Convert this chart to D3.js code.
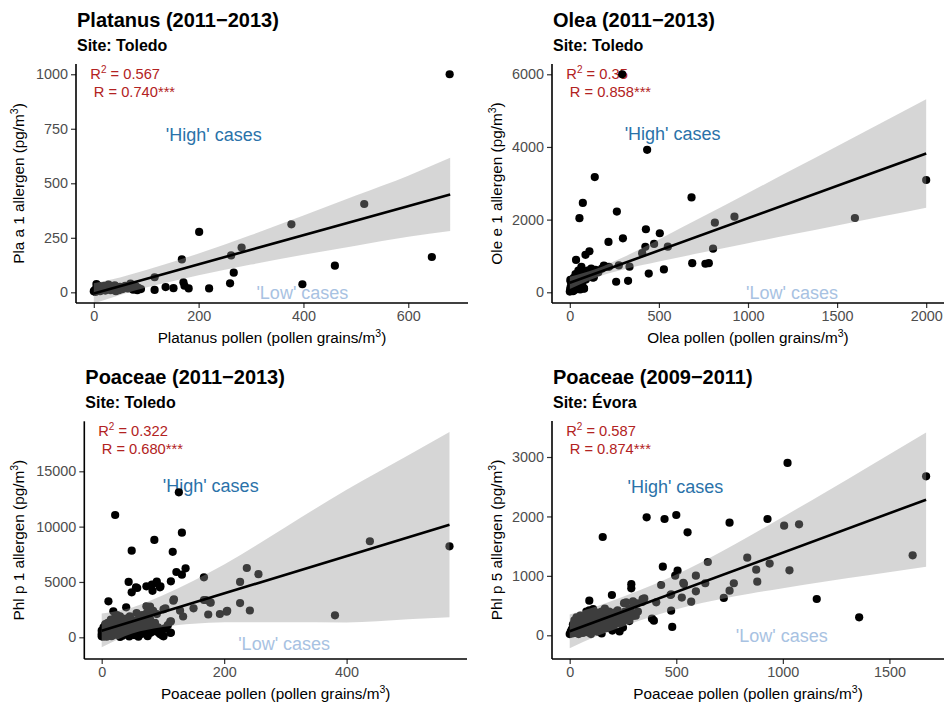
<!DOCTYPE html>
<html><head><meta charset="utf-8">
<script src="https://cdn.jsdelivr.net/npm/d3@7/dist/d3.min.js"></script>
<style>
body{margin:0;background:#fff;}
svg text{font-family:"Liberation Sans",Arial,Helvetica,sans-serif;}
</style></head>
<body><svg id="chart" width="944" height="706"></svg>
<script>
// ---------------- DATA ----------------
// Panel 1: Platanus (Toledo) [pollen, allergen]
const platanusPoints = [
 [679,1000],[516,405],[377,312],[201,277],[282,205],[262,169],[168,151],[267,90],[645,162],[460,122],
 [398,37],[260,41],[220,18],[171,46],[173,30],[181,18],[152,19],[137,24],[116,11],[116,69],
 [0,5],[2,10],[3,2],[5,20],[5,38],[8,15],[10,30],[12,5],[15,25],[18,12],[20,30],[22,8],[25,18],
 [28,35],[30,22],[32,10],[35,28],[38,15],[40,32],[42,5],[45,20],[48,10],[50,25],[55,15],[60,30],
 [65,18],[70,40],[72,22],[75,12],[80,28],[83,10],[85,20],[90,15]
];
const platanusFit = {x:[0,680], y:[-5,449]};
const platanusBandX = [0,50,100,150,200,300,400,500,600,680];
const platanusBandLo = [-51,-12,22,51,78,127,172,214,255,281];
const platanusBandHi = [41,68,102,139,178,263,352,444,535,617];

// Panel 2: Olea (Toledo)
const oleaPoints = [
 [294,6000],[434,3920],[140,3170],[73,2460],[54,2040],[264,2220],[683,2610],[2000,3090],[1600,2045],
 [924,2080],[814,1915],[804,1200],[427,1735],[505,1625],[298,1485],[217,1385],[473,1330],[550,1255],
 [424,1250],[406,1075],[110,1130],[88,1030],[35,890],[687,800],[761,785],[780,800],[528,630],[443,515],
 [260,290],[327,315],[335,705],[275,740],[200,705],[135,415],[191,732],[107,567],[144,614],
 [0,20],[2,80],[5,150],[5,300],[8,50],[10,200],[12,350],[15,100],[18,30],[20,250],[22,400],[25,150],
 [28,60],[30,300],[32,500],[35,200],[38,100],[40,350],[42,450],[45,250],[48,600],[50,150],[55,400],
 [58,80],[60,500],[62,300],[65,700],[70,200],[75,450],[80,100],[85,550],[90,350],[100,600],[110,450],
 [120,650],[130,400],[145,600],[160,550],[180,650],[220,700],[3,339],[13,63],[79,110]
];
const oleaFit = {x:[0,2000], y:[260,3820]};
const oleaBandX = [0,150,300,500,750,1000,1250,1500,1750,2000];
const oleaBandLo = [90,407,624,845,1099,1347,1594,1840,2085,2330];
const oleaBandHi = [430,647,964,1455,2091,2733,3376,4020,4665,5310];

// Panel 3: Poaceae (Toledo)
const poaceaeTPoints = [
 [568,8220],[438,8680],[381,1990],[237,6260],[256,5700],[226,5000],[242,2420],[226,3090],[205,2400],
 [193,2105],[174,2060],[177,3160],[167,3370],[167,5420],[150,2620],[137,6230],[131,5660],[122,5900],
 [131,9450],[126,13100],[116,7720],[113,5060],[86,8800],[89,4906],[96,4600],[82,4753],[83,4200],
 [73,4608],[58,4455],[49,4060],[49,7825],[44,5000],[22,11050],[11,3250],[117,3307],[133,1880],
 [113,1446],[101,2530],[113,400],[101,90],[73,2801],[40,2711],[19,2349],[57,2196],[79,1563],
 [118,3430],[170,3370],[178,3127],[204,2313],[128,2404],[112,1410],[104,2620],[79,2765],[76,1861],
 [112,416],[98,208],[90,5025],[95,4518],[56,4518],
 [0,100],[0,300],[0,600],[1,200],[2,50],[2,450],[3,900],[4,150],[5,350],[5,700],[6,1200],[7,250],
 [8,500],[8,50],[9,800],[10,1300],[10,400],[12,150],[12,650],[13,1000],[14,300],[15,1600],[15,550],
 [16,100],[17,800],[18,400],[20,1100],[20,200],[21,650],[22,1800],[23,300],[24,900],
 [25,500],[25,2000],[27,1400],[28,200],[28,700],[30,1000],[30,1900],[32,450],[33,1500],[34,150],
 [35,800],[37,1100],[38,350],[40,1700],[40,600],[42,1300],[43,250],[45,900],
 [46,1900],[48,500],[50,1200],[52,700],[53,200],[55,1500],[56,1000],[58,400],
 [60,800],[62,1800],[63,1200],[65,300],[66,2000],[68,900],[70,1400],[72,600],[74,2200],[75,1100],
 [77,800],[79,1600],[80,400],[82,1000],[84,2400],[85,700],[87,1300],[90,500],[92,900],[95,300],
 [97,600],[100,150],[103,800],[108,1100],[75,100],[60,50],[45,80],[30,30],[90,2100]
];
const poaceaeTFit = {x:[0,568], y:[596,10175]};
const poaceaeTBandX = [0,50,100,150,200,300,400,500,568];
const poaceaeTBandLo = [-904,339,932,1225,1368,1354,1340,1626,1805];
const poaceaeTBandHi = [2150,2700,3800,5100,6568,9954,13340,16426,18545];

// Panel 4: Poaceae (Évora)
const poaceaeEPoints = [
 [1672,2675],[1022,2900],[1609,1346],[1159,611],[1358,303],[1031,1094],[938,1206],[928,1957],
 [1006,1845],[1076,1868],[833,1306],[875,1104],[880,902],[750,1895],[648,1233],[770,876],[750,750],
 [723,628],[636,876],[592,1003],[592,740],[570,565],[553,1733],[500,2024],[445,1957],[361,1985],
 [437,1154],[506,1087],[495,1003],[536,862],[429,846],[476,690],[406,555],[476,414],[481,140],
 [386,279],[395,246],[342,611],[297,572],[297,325],[289,860],[289,790],[198,678],[155,1654],
 [92,582],[234,64],[316,538],[265,555],[265,262],[533,882],[526,635],[473,678],
 [0,20],[5,60],[10,100],[12,30],[15,180],[20,80],[22,250],[25,130],[28,40],[30,200],[32,300],
 [35,90],[38,150],[40,260],[42,20],[45,110],[48,200],[50,330],[52,60],[55,170],[58,250],[60,120],
 [62,40],[65,220],[68,300],[70,150],[72,80],[75,190],[78,400],[80,260],[82,110],[85,50],[88,330],
 [90,200],[92,420],[95,140],[98,280],[100,70],[105,360],[108,190],[110,440],[112,250],[115,100],
 [118,320],[120,170],[125,230],[128,380],[130,60],[135,280],[138,150],[140,340],[145,210],[148,90],
 [150,400],[155,260],[158,170],[160,300],[165,450],[170,220],[172,120],[175,350],[180,280],
 [185,400],[190,180],[195,330],[200,250],[205,130],[210,380],[215,300],[220,200],[225,420],
 [230,270],[240,320],[250,230],[255,540],[260,400],[270,300],[280,240],[290,380],[300,520],
 [310,330],[320,400],[340,560],[350,620],[250,130],[30,70],[200,80],[150,30],[100,20],[60,290],[280,450]
];
const poaceaeEFit = {x:[0,1672], y:[67,2282]};
const poaceaeEBandX = [0,125,250,400,550,700,850,1000,1200,1400,1672];
const poaceaeEBandLo = [-217,-17,148,332,485,604,703,792,906,1011,1152];
const poaceaeEBandHi = [351,483,648,862,1105,1384,1683,1992,2406,2831,3412];

// Titles / labels
const titles = ["Platanus (2011\u22122013)","Olea (2011\u22122013)","Poaceae (2011\u22122013)","Poaceae (2009\u22122011)"];
const subtitles = ["Site: Toledo","Site: Toledo","Site: Toledo","Site: \u00C9vora"];
const xLabels = ["Platanus pollen (pollen grains/m","Olea pollen (pollen grains/m","Poaceae pollen (pollen grains/m","Poaceae pollen (pollen grains/m"];
const yLabels = ["Pla a 1 allergen (pg/m","Ole e 1 allergen (pg/m","Phl p 1 allergen (pg/m","Phl p 5 allergen (pg/m"];
const r2Values = ["0.567","0.35","0.322","0.587"];
const rValues = ["0.740***","0.858***","0.680***","0.874***"];
const xTicks = [[0,200,400,600],[0,500,1000,1500,2000],[0,200,400],[0,500,1000,1500]];
const yTicks = [[0,250,500,750,1000],[0,2000,4000,6000],[0,5000,10000,15000],[0,1000,2000,3000]];
const highPos = [[229,721],[577,4376],[178,13700],[496,2495]];
const lowPos = [[398,0],[1247,0],[298,-605],[995,0]];

// ---------------- LAYOUT ----------------
const panels = [
 {pts:platanusPoints, fit:platanusFit, bx:platanusBandX, lo:platanusBandLo, hi:platanusBandHi,
  rect:{l:76,r:468,t:64,b:303}, xd:[-34,714], yd:[-49,1047], ylabX:19},
 {pts:oleaPoints, fit:oleaFit, bx:oleaBandX, lo:oleaBandLo, hi:oleaBandHi,
  rect:{l:552,r:944,t:64,b:303}, xd:[-100,2100], yd:[-295,6283], ylabX:497},
 {pts:poaceaeTPoints, fit:poaceaeTFit, bx:poaceaeTBandX, lo:poaceaeTBandLo, hi:poaceaeTBandHi,
  rect:{l:84.3,r:467,t:421.3,b:659}, xd:[-28.4,596.6], yd:[-1961,19518], ylabX:19},
 {pts:poaceaeEPoints, fit:poaceaeEFit, bx:poaceaeEBandX, lo:poaceaeEBandLo, hi:poaceaeEBandHi,
  rect:{l:552,r:944,t:421,b:659}, xd:[-83,1756], yd:[-399,3606], ylabX:497}
];

const svg = d3.select("#chart");
const FONT_TICK = 14.4, FONT_AX = 15.3;

panels.forEach((p,i)=>{
  const R = p.rect;
  const x = d3.scaleLinear().domain(p.xd).range([R.l,R.r]);
  const y = d3.scaleLinear().domain(p.yd).range([R.b,R.t]);
  const g = svg.append("g");
  const clipId = "clip"+i;
  svg.append("clipPath").attr("id",clipId).append("rect")
    .attr("x",R.l).attr("y",R.t).attr("width",R.r-R.l).attr("height",R.b-R.t);

  // title & subtitle
  g.append("text").attr("x",R.l+1).attr("y",R.t-37.5).attr("font-size",20).attr("font-weight","bold")
    .attr("fill","#000").text(titles[i]);
  g.append("text").attr("x",R.l+1).attr("y",R.t-13.5).attr("font-size",16).attr("font-weight","bold")
    .attr("fill","#000").text(subtitles[i]);

  // annotations (under the points)
  const ann = g.append("g");
  const r2 = ann.append("text").attr("x",x(0)-3.5).attr("y",R.t+15).attr("font-size",14.7).attr("fill","#b22222");
  r2.append("tspan").text("R");
  r2.append("tspan").attr("dy",-6).attr("font-size",10).text("2");
  r2.append("tspan").attr("dy",6).text(" = "+r2Values[i]);
  ann.append("text").attr("x",x(0)).attr("y",R.t+32.5).attr("font-size",14.7).attr("fill","#b22222")
    .text("R = "+rValues[i]);
  ann.append("text").attr("x",x(highPos[i][0])).attr("y",y(highPos[i][1])).attr("dy","0.35em")
    .attr("text-anchor","middle").attr("font-size",18).attr("fill","#2a72a9").text("'High' cases");
  ann.append("text").attr("x",x(lowPos[i][0])).attr("y",y(lowPos[i][1])).attr("dy","0.35em")
    .attr("text-anchor","middle").attr("font-size",18).attr("fill","#a8c2e2").text("'Low' cases");

  const plot = g.append("g").attr("clip-path",`url(#${clipId})`);
  // points
  plot.selectAll("circle").data(p.pts).join("circle")
    .attr("cx",d=>x(d[0])).attr("cy",d=>y(d[1])).attr("r",4.1).attr("fill","#000");
  // confidence band
  const band = p.bx.map((bx,k)=>({x:bx, lo:p.lo[k], hi:p.hi[k]}));
  plot.append("path").datum(band)
    .attr("d",d3.area().x(d=>x(d.x)).y0(d=>y(d.lo)).y1(d=>y(d.hi)).curve(d3.curveMonotoneX))
    .attr("fill","#999999").attr("fill-opacity",0.4);
  // fit line
  const fitData = p.fit.x.map((fx,k)=>[fx,p.fit.y[k]]);
  plot.append("path").datum(fitData)
    .attr("d",d3.line().x(d=>x(d[0])).y(d=>y(d[1])))
    .attr("stroke","#000").attr("stroke-width",2.6).attr("fill","none");

  // axes
  const xAxis = g.append("g").attr("transform",`translate(0,${R.b})`)
    .call(d3.axisBottom(x).tickValues(xTicks[i]).tickFormat(d3.format("d")).tickSize(5).tickPadding(3).tickSizeOuter(0));
  const yAxis = g.append("g").attr("transform",`translate(${R.l},0)`)
    .call(d3.axisLeft(y).tickValues(yTicks[i]).tickFormat(d3.format("d")).tickSize(5).tickPadding(3).tickSizeOuter(0));
  [xAxis,yAxis].forEach(a=>{
    a.select(".domain").remove();
    a.selectAll(".tick line").attr("stroke","#333").attr("stroke-width",1.2);
    a.selectAll(".tick text").attr("font-size",FONT_TICK).attr("fill","#4d4d4d")
      .attr("font-family","Liberation Sans, Arial, sans-serif");
  });
  g.append("line").attr("x1",R.l).attr("x2",R.r).attr("y1",R.b).attr("y2",R.b)
    .attr("stroke","#000").attr("stroke-width",1.6);
  g.append("line").attr("x1",R.l).attr("x2",R.l).attr("y1",R.t).attr("y2",R.b)
    .attr("stroke","#000").attr("stroke-width",1.6);

  // axis titles
  const xt = g.append("text").attr("x",(R.l+R.r)/2).attr("y",R.b+40).attr("text-anchor","middle")
    .attr("font-size",FONT_AX).attr("fill","#000");
  xt.append("tspan").text(xLabels[i]);
  xt.append("tspan").attr("dy",-6).attr("font-size",10.5).text("3");
  xt.append("tspan").attr("dy",6).text(")");
  const yt = g.append("text").attr("transform",`translate(${p.ylabX+5},${(R.t+R.b)/2}) rotate(-90)`)
    .attr("text-anchor","middle").attr("font-size",FONT_AX).attr("fill","#000");
  yt.append("tspan").text(yLabels[i]);
  yt.append("tspan").attr("dy",-6).attr("font-size",10.5).text("3");
  yt.append("tspan").attr("dy",6).text(")");
});
</script></body></html>
